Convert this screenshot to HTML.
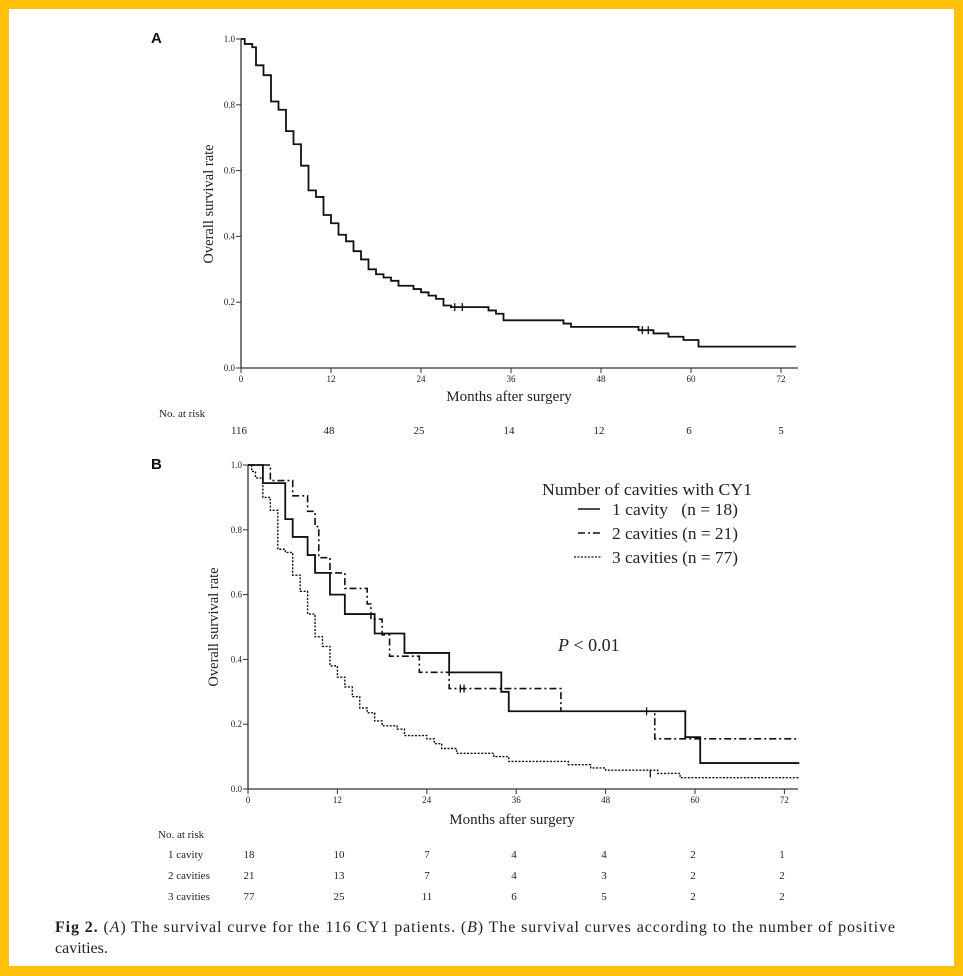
<!DOCTYPE html>
<html><head><meta charset="utf-8"><style>
html,body{margin:0;padding:0;background:#fff}
#wrap{width:963px;height:976px;position:relative;overflow:hidden}
svg text{font-family:"Liberation Serif",serif;fill:#222}
</style></head><body><div id="wrap">
<svg id="s" width="963" height="976" viewBox="0 0 963 976" xmlns="http://www.w3.org/2000/svg">
<rect x="0" y="0" width="963" height="976" fill="#FFC107"/>
<rect x="9" y="9" width="945" height="957" fill="#fff"/>
<text x="151" y="43" style="font-family:'Liberation Sans',sans-serif;font-weight:bold;font-size:15px;fill:#111">A</text>
<text x="151" y="469" style="font-family:'Liberation Sans',sans-serif;font-weight:bold;font-size:15px;fill:#111">B</text>
<g id="axA"></g><g id="axB"></g>
<text transform="translate(213,204) rotate(-90)" text-anchor="middle" font-size="14.5">Overall survival rate</text>
<text x="509" y="401" text-anchor="middle" font-size="15">Months after surgery</text>
<text x="159" y="417" font-size="11">No. at risk</text>
<text transform="translate(218,627) rotate(-90)" text-anchor="middle" font-size="14.5">Overall survival rate</text>
<text x="512" y="824" text-anchor="middle" font-size="15">Months after surgery</text>
<text x="542" y="495" font-size="17" textLength="210" lengthAdjust="spacingAndGlyphs">Number of cavities with CY1</text>
<line x1="578" y1="509" x2="600" y2="509" stroke="#111" stroke-width="1.5"/>
<text x="612" y="515" font-size="16.5" textLength="126" lengthAdjust="spacingAndGlyphs">1 cavity &#160;&#160;(n = 18)</text>
<line x1="578" y1="533" x2="602" y2="533" stroke="#111" stroke-width="1.5" stroke-dasharray="7,3,2,3"/>
<text x="612" y="539" font-size="16.5" textLength="126" lengthAdjust="spacingAndGlyphs">2 cavities (n = 21)</text>
<line x1="574" y1="557" x2="602" y2="557" stroke="#111" stroke-width="1.2" stroke-dasharray="2,1.5"/>
<text x="612" y="563" font-size="16.5" textLength="126" lengthAdjust="spacingAndGlyphs">3 cavities (n = 77)</text>
<text x="558" y="651" font-size="18"><tspan font-style="italic">P</tspan> &lt; 0.01</text>
<text x="158" y="838" font-size="11">No. at risk</text>
<text x="168" y="858" font-size="11">1 cavity</text>
<text x="168" y="879" font-size="11">2 cavities</text>
<text x="168" y="900" font-size="11">3 cavities</text>
<g id="risk" font-size="11" text-anchor="middle"></g>
<text x="55" y="932" font-size="16" textLength="840" lengthAdjust="spacing"><tspan font-weight="bold">Fig 2.</tspan> (<tspan font-style="italic">A</tspan>) The survival curve for the 116 CY1 patients. (<tspan font-style="italic">B</tspan>) The survival curves according to the number of positive</text>
<text x="55" y="953" font-size="16">cavities.</text>
<g id="curves" fill="none" stroke="#111"></g>
</svg>
<script>
var NS="http://www.w3.org/2000/svg";
function el(p,t,a,txt){var e=document.createElementNS(NS,t);for(var k in a)e.setAttribute(k,a[k]);if(txt!=null)e.textContent=txt;document.getElementById(p).appendChild(e);return e;}
function axis(id,x0,y0,ppm,h,xend){
 el(id,"line",{x1:x0,y1:y0-h,x2:x0,y2:y0,stroke:"#333","stroke-width":1.3});
 el(id,"line",{x1:x0,y1:y0,x2:xend,y2:y0,stroke:"#333","stroke-width":1.3});
 for(var i=0;i<=5;i++){var y=y0-h*i/5;el(id,"line",{x1:x0-5,y1:y,x2:x0,y2:y,stroke:"#333"});
  el(id,"text",{x:x0-6,y:y+3,"font-size":"9","text-anchor":"end"},(i/5).toFixed(1));}
 for(var m=0;m<=72;m+=12){var x=x0+m*ppm;el(id,"line",{x1:x,y1:y0,x2:x,y2:y0+5,stroke:"#333"});
  el(id,"text",{x:x,y:y0+14,"font-size":"9","text-anchor":"middle"},m);}
}
axis("axA",241,368,7.5,329,798);
axis("axB",248,789,7.45,324,798);
function step(d,x0,y0,ppm,h,end,attrs,cens){
 var p="M"+x0+","+(y0-h*d[0][1]);
 for(var i=1;i<d.length;i++){var x=x0+d[i][0]*ppm;p+="H"+x+"V"+(y0-h*d[i][1]);}
 p+="H"+(x0+end*ppm);
 attrs.d=p;el("curves","path",attrs);
 (cens||[]).forEach(function(c){var x=x0+c[0]*ppm,y=y0-h*c[1];el("curves","line",{x1:x,y1:y-4,x2:x,y2:y+4,"stroke-width":1.3});});
}
var A=[[0,1],[0.5,.985],[1.5,.975],[2,.92],[3,.89],[4,.81],[5,.785],[6,.72],[7,.68],[8,.615],[9,.54],[10,.52],[11,.465],[12,.44],[13,.405],[14,.385],[15,.355],[16,.33],[17,.3],[18,.285],[19,.275],[20,.265],[21,.25],[23,.24],[24,.23],[25,.22],[26,.21],[27,.19],[28,.185],[33,.175],[34,.165],[35,.145],[43,.135],[44,.125],[53,.115],[55,.105],[57,.095],[59,.085],[61,.065]];
step(A,241,368,7.5,329,74,{"stroke-width":1.8},[[28.5,.185],[29.5,.185],[53.5,.115],[54.3,.115]]);
var B1=[[0,1],[2,.944],[5,.833],[6,.778],[8,.722],[9,.667],[11,.6],[13,.54],[17,.48],[21,.42],[27,.36],[34,.3],[35,.24],[58.7,.16],[60.7,.08]];
var B2=[[0,1],[3,.952],[6,.905],[8,.857],[9,.81],[9.5,.714],[11,.667],[13,.619],[16,.571],[16.5,.524],[18,.476],[19,.41],[23,.36],[27,.31],[42,.24],[54.6,.155]];
var B3=[[0,1],[.5,.98],[1,.96],[2,.9],[3,.86],[4,.74],[5,.73],[6,.66],[7,.61],[8,.54],[9,.47],[10,.44],[11,.38],[12,.345],[13,.315],[14,.285],[15,.25],[16,.235],[17,.21],[18,.195],[20,.185],[21,.165],[24,.155],[25,.14],[26,.125],[28,.11],[33,.1],[35,.085],[43,.075],[46,.065],[48,.058],[55,.048],[58,.035]];
step(B3,248,789,7.45,324,74,{"stroke-width":1.4,"stroke-dasharray":"2,1.5"},[[54,.048]]);
step(B2,248,789,7.45,324,74,{"stroke-width":1.6,"stroke-dasharray":"7,3,2,3"},[[28.5,.31],[29,.31]]);
step(B1,248,789,7.45,324,74,{"stroke-width":1.8},[[53.5,.24]]);
var xs=[239,329,419,509,599,689,781];
["116","48","25","14","12","6","5"].forEach(function(v,i){el("risk","text",{x:xs[i],y:434},v);});
var xb=[249,339,427,514,604,693,782];
[["18","10","7","4","4","2","1"],["21","13","7","4","3","2","2"],["77","25","11","6","5","2","2"]].forEach(function(r,j){r.forEach(function(v,i){el("risk","text",{x:xb[i],y:858+21*j},v);});});
</script>
</div></body></html>
